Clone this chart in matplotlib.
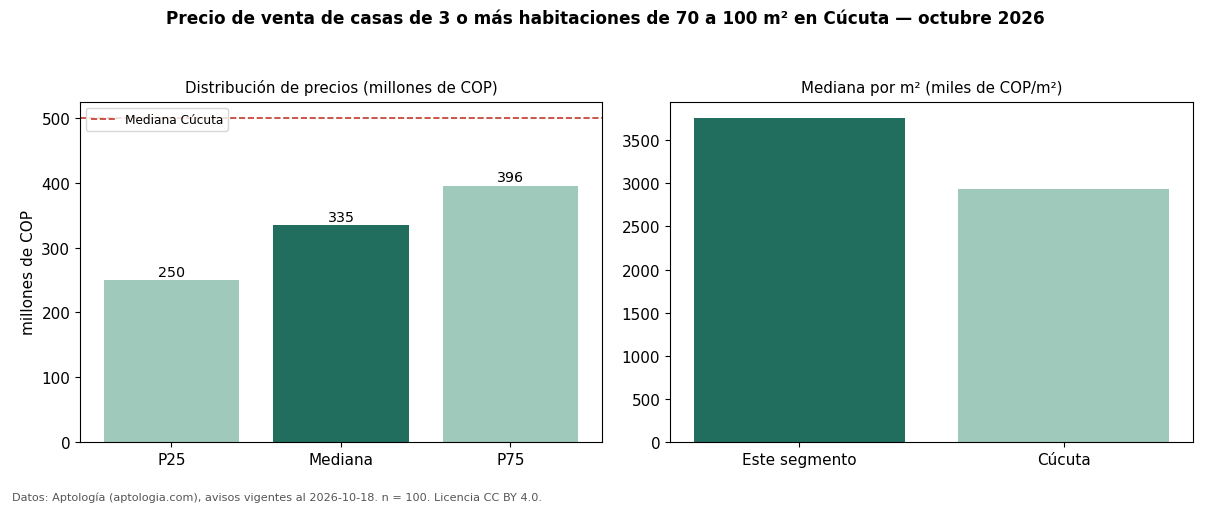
import matplotlib
matplotlib.use("Agg")
import matplotlib.pyplot as plt

# datos
percentiles = ["P25", "Mediana", "P75"]
precios = [250, 335, 396]
mediana_cucuta = 500
segmentos = ["Este segmento", "Cúcuta"]
por_m2 = [3755, 2932]

oscuro = "#216e5e"
claro = "#9ec9bb"

fig = plt.figure(figsize=(12.1, 5.06), dpi=100)
ax1 = fig.add_axes([0.0661, 0.1245, 0.4314, 0.672])
ax2 = fig.add_axes([0.5537, 0.1245, 0.4322, 0.672])

bars = ax1.bar(percentiles, precios, color=[claro, oscuro, claro], width=0.8)
ax1.axhline(mediana_cucuta, color="#c0392b", linestyle="--", linewidth=1.2, label="Mediana Cúcuta")
ax1.bar_label(bars, labels=[f"{v}" for v in precios], fontsize=10.3, padding=1)
ax1.set_ylabel("millones de COP", fontsize=11)
ax1.set_title("Distribución de precios (millones de COP)", fontsize=10.8, pad=7)
ax1.legend(loc="upper left", fontsize=8.7)
ax1.tick_params(labelsize=11)

ax2.bar(segmentos, por_m2, color=[oscuro, claro], width=0.8)
ax2.set_title("Mediana por m² (miles de COP/m²)", fontsize=10.8, pad=7)
ax2.tick_params(labelsize=11)

fig.suptitle("Precio de venta de casas de 3 o más habitaciones de 70 a 100 m² en Cúcuta — octubre 2026",
             fontsize=12.2, fontweight="bold", y=0.98)
fig.text(0.01, 0.01, "Datos: Aptología (aptologia.com), avisos vigentes al 2026-10-18. n = 100. Licencia CC BY 4.0.",
         fontsize=8.1, color="#555555")

fig.savefig("out.png", dpi=100)
